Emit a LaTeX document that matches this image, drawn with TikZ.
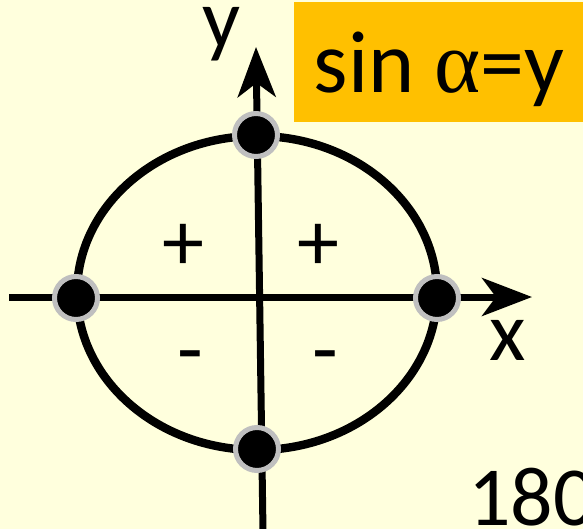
\documentclass[tikz,border=0pt]{standalone}
\usepackage{fontspec}
\setmainfont{Carlito}
\newfontfamily\greekserif{Liberation Serif}
\usepackage{xcolor}
\usepackage{tikz}
\usetikzlibrary{arrows.meta}
\definecolor{ubg}{HTML}{FFFFDD}
\definecolor{uorange}{HTML}{FFC000}
\definecolor{urim}{HTML}{BFBFBF}
\tikzset{
  uaxis/.style={-{Stealth[length=25pt,width=19pt,inset=7pt]},draw=black,line width=3.5pt},
  uring/.style={draw=black,line width=4.2pt},
  udot/.style={circle,fill=black,draw=urim,line width=2.5pt,minimum size=21.5pt,inner sep=0pt},
  ulabel/.style={inner sep=0pt,font=\fontsize{42}{42}\selectfont},
  ubox/.style={fill=uorange,inner sep=0pt,minimum width=144.5pt,
    text height=45pt,text depth=15pt,font=\fontsize{44}{44}\selectfont}
}

\begin{document}
\begin{tikzpicture}[x=0.5pt,y=-0.5pt]
  \useasboundingbox (0,0) rectangle (583,529);
  \fill[ubg] (0,0) rectangle (583,529);
  \clip (0,0) rectangle (583,529);
  \node[ubox,anchor=north west] (formula) at (294,2) {sin {\greekserif α}=y};
  \coordinate (xfrom) at (9,297);
  \coordinate (xto) at (532,297);
  \coordinate (yfrom) at (263,532);
  \coordinate (yto) at (256,47);
  \draw[uring] (257,293) ellipse [x radius=180,y radius=157];
  \draw[uaxis] (xfrom) -- (xto);
  \draw[uaxis] (yfrom) -- (yto);
  \node[udot] (top) at (256,135) {};
  \node[udot] (left) at (76,298) {};
  \node[udot] (right) at (437,298) {};
  \node[udot] (bottom) at (257,449) {};
  \node[ulabel] (plusa) at (183,247) {+};
  \node[ulabel] (plusb) at (318,247) {+};
  \node[ulabel,anchor=base] (minusa) at (190,377) {-};
  \node[ulabel,anchor=base] (minusb) at (325,377) {-};
  \node[ulabel,anchor=base] (xlabel) at (508,360) {x};
  \node[ulabel,anchor=base] (ylabel) at (222,48) {y};
  \node[ulabel,anchor=base west] (angle) at (468,525) {180};
\end{tikzpicture}
\end{document}
